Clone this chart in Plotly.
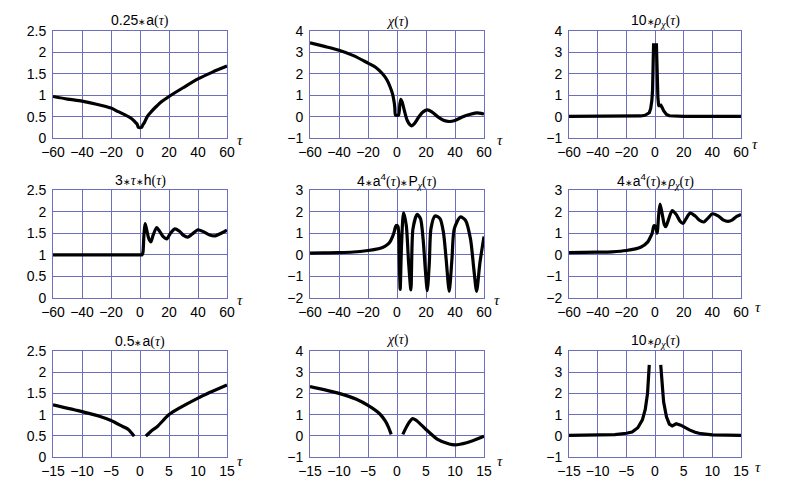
import plotly.graph_objects as go

# the page places the figure 8 px in from the top-left corner of the window
OFF = 8
W, H = 789 - OFF, 488 - OFF

# ---------------- data ----------------
# a(tau) (panel 1 shows 0.25*a, panel 7 shows 0.5*a)
a_tau = [-60, -50, -40, -30, -20, -15, -10, -7, -5, -3, -2, -1, 1, 2, 3, 5, 7, 10, 12, 15, 20, 30, 40, 50, 60]
a_val = [3.88, 3.64, 3.44, 3.16, 2.80, 2.46, 2.14, 1.92, 1.72, 1.44, 1.30, 0.98,
         0.98, 1.24, 1.44, 2.00, 2.34, 2.78, 3.04, 3.40, 3.88, 4.72, 5.52, 6.16, 6.72]

# chi(tau)
chi_tau = [-60, -50, -40, -30, -20, -15, -10, -7, -5, -3, -2, -1.5, -1, 1, 2, 2.7, 3.5, 5, 7, 9, 10, 12, 15,
           18, 21, 24, 28, 32, 36, 40, 45, 50, 55, 58, 60]
chi_val = [3.45, 3.28, 3.10, 2.85, 2.50, 2.32, 2.00, 1.72, 1.43, 1.04, 0.69, 0.42, 0.07, 0.07, 0.60, 0.81, 0.69,
           0.30, -0.17, -0.39, -0.43, -0.33, -0.02, 0.22, 0.31, 0.22, 0.00, -0.17, -0.23, -0.18, -0.02, 0.10,
           0.17, 0.15, 0.12]

# 10*rho_chi(tau)
rho_tau = [-60, -40, -20, -15, -10, -7, -5, -4, -3, -2.2, -1.7, -1.3, -1, 1, 1.3, 1.5, 2, 2.5, 3, 3.7, 4.5,
           5, 6, 7, 8, 10, 15, 20, 60]
rho_val = [0.01, 0.01, 0.02, 0.02, 0.03, 0.06, 0.12, 0.18, 0.38, 0.75, 1.24, 2.00, 3.35, 3.35, 2.20, 1.60,
           0.90, 0.55, 0.47, 0.57, 0.50, 0.42, 0.28, 0.17, 0.10, 0.04, 0.02, 0.01, 0.01]

# 3*tau*h(tau)
h_tau = [-60, -30, 0, 1.4, 2, 2.7, 3.5, 4.5, 6, 7.5, 9, 11.5, 14, 16, 18.5, 21, 24, 27, 30, 33, 36, 40,
         44, 48, 52, 56, 60]
h_val = [1.0, 1.0, 1.0, 1.0, 1.05, 1.45, 1.72, 1.60, 1.38, 1.30, 1.45, 1.63, 1.52, 1.42, 1.37, 1.50, 1.60,
         1.55, 1.45, 1.41, 1.48, 1.58, 1.53, 1.46, 1.44, 1.50, 1.57]

# 4*a^4(tau)*P_chi(tau)
p_tau = [-60, -50, -40, -30, -20, -15, -10, -7, -5, -3, -2, -1, -0.3, 0.7, 1.5, 2.2, 3.1, 4.5, 6.4, 8,
         9.6, 11, 13.9, 16.2, 18, 19.7, 20.9, 22.3, 23.4, 26.2, 29.7, 32, 33.9, 36, 37.9, 39.5, 43.7, 47.2,
         50.7, 53, 54.9, 57.2, 60]
p_val = [0.08, 0.09, 0.10, 0.13, 0.20, 0.25, 0.34, 0.45, 0.58, 0.85, 1.05, 1.30, 1.36, 1.30, 0.00, -1.60,
         0.40, 1.94, 1.36, -0.36, -1.62, 1.20, 1.87, 1.67, 0.73, -0.83, -1.66, -0.36, 1.20, 1.80, 1.67, 1.05,
         -0.20, -1.69, -0.20, 1.20, 1.75, 1.60, 0.73, -0.67, -1.69, -0.36, 0.85]

# 4*a^4(tau)*rho_chi(tau)
r_tau = [-60, -40, -30, -20, -10, -5, -3, -2, -1, -0.5, 0.5, 1.5, 2.5, 3.5, 5, 6.5, 7.5, 9, 12, 15, 17.5,
         19.5, 21.5, 24.5, 28, 31, 34, 37, 40, 44, 47.5, 51, 54, 57, 60]
r_val = [0.10, 0.12, 0.14, 0.20, 0.35, 0.60, 0.85, 1.00, 1.30, 1.35, 1.30, 1.00, 1.80, 2.35, 1.90, 1.40,
         1.30, 1.55, 2.05, 1.85, 1.55, 1.45, 1.65, 1.93, 1.80, 1.60, 1.52, 1.70, 1.90, 1.80, 1.62, 1.55,
         1.62, 1.78, 1.87]

x_full_ticks = [-60, -40, -20, 0, 20, 40, 60]
x_zoom_ticks = [-15, -10, -5, 0, 5, 10, 15]
y_a_ticks = [0, 0.5, 1, 1.5, 2, 2.5]
y_chi_ticks = [-1, 0, 1, 2, 3, 4]
y_p_ticks = [-2, -1, 0, 1, 2, 3]

# ---------------- layout geometry (window pixels) ----------------
cols = [(53, 227), (310, 484), (569, 741)]
rows = [(31, 138), (190, 298), (351, 457)]
# per panel (xshift, yshift) of the tau axis label
tau_shift = [(8, -2), (11, -2), (9, -6),
             (8, -2), (8, -2), (12, -9),
             (8, -4), (11, -4), (12, -10)]

GRID = "rgb(110,110,190)"
FONT = "Liberation Sans, Arial, sans-serif"
SERIF = "Liberation Serif, DejaVu Serif, serif"


def g(s):
    return '<span style="font-family:Liberation Serif"><i>%s</i></span>' % s


AST = '<span style="font-size:9px">∗</span>'
P = '<span style="font-family:Liberation Serif">(</span>'
Q = '<span style="font-family:Liberation Serif">)</span>'
TAU = P + g("τ") + Q

panels = [
    dict(x=a_tau, y=[0.25 * v for v in a_val], xr=(-60, 60), xt=x_full_ticks, yr=(0, 2.5), yt=y_a_ticks,
         title="0.25" + AST + "a" + TAU, shape="spline", gap=False),
    dict(x=chi_tau, y=chi_val, xr=(-60, 60), xt=x_full_ticks, yr=(-1, 4), yt=y_chi_ticks,
         title=g("χ") + TAU, shape="spline", gap=False),
    dict(x=rho_tau, y=rho_val, xr=(-60, 60), xt=x_full_ticks, yr=(-1, 4), yt=y_chi_ticks,
         title="10" + AST + g("ρ") + "<sub>" + g("χ") + "</sub>" + TAU, shape="linear", gap=False),
    dict(x=h_tau, y=h_val, xr=(-60, 60), xt=x_full_ticks, yr=(0, 2.5), yt=y_a_ticks,
         title="3" + AST + g("τ") + AST + "h" + TAU, shape="spline", gap=False),
    dict(x=p_tau, y=p_val, xr=(-60, 60), xt=x_full_ticks, yr=(-2, 3), yt=y_p_ticks,
         title="4" + AST + "a<sup>4</sup>" + TAU + AST + "P<sub>" + g("χ") + "</sub>" + TAU,
         shape="spline", gap=False),
    dict(x=r_tau, y=r_val, xr=(-60, 60), xt=x_full_ticks, yr=(-2, 3), yt=y_p_ticks,
         title="4" + AST + "a<sup>4</sup>" + TAU + AST + g("ρ") + "<sub>" + g("χ") + "</sub>" + TAU,
         shape="spline", gap=False),
    dict(x=a_tau, y=[0.5 * v for v in a_val], xr=(-15, 15), xt=x_zoom_ticks, yr=(0, 2.5), yt=y_a_ticks,
         title="0.5" + AST + "a" + TAU, shape="spline", gap=True),
    dict(x=chi_tau, y=chi_val, xr=(-15, 15), xt=x_zoom_ticks, yr=(-1, 4), yt=y_chi_ticks,
         title=g("χ") + TAU, shape="spline", gap=True),
    dict(x=rho_tau, y=rho_val, xr=(-15, 15), xt=x_zoom_ticks, yr=(-1, 4), yt=y_chi_ticks,
         title="10" + AST + g("ρ") + "<sub>" + g("χ") + "</sub>" + TAU, shape="linear", gap=True),
]
title_center = [20, 22, 21, 181, 181, 181, 341, 340, 341]


def fmt(v):
    s = ("%g" % v)
    return s.replace("-", "−")


def px(x):
    return (x - OFF) / W


def py(y):
    return 1 - (y - OFF) / H


fig = go.Figure()
annotations = []
layout = {}
for i, p in enumerate(panels):
    n = i + 1
    r, c = divmod(i, 3)
    x0, x1 = cols[c]
    y0, y1 = rows[r]
    xs = "" if n == 1 else str(n)
    xname, yname = "x" + xs, "y" + xs
    if p["gap"]:
        lo, hi = p["xr"]
        segs = [[(t, v) for t, v in zip(p["x"], p["y"]) if lo - 1 <= t <= -1],
                [(t, v) for t, v in zip(p["x"], p["y"]) if 1 <= t <= hi + 1]]
    else:
        segs = [list(zip(p["x"], p["y"]))]
    for seg in segs:
        fig.add_trace(go.Scatter(x=[s[0] for s in seg], y=[s[1] for s in seg], mode="lines",
                                 line=dict(color="black", width=3.2, shape=p["shape"], smoothing=0.7),
                                 xaxis=xname, yaxis=yname, showlegend=False, hoverinfo="skip",
                                 cliponaxis=True))
    axis_common = dict(showgrid=True, gridcolor=GRID, gridwidth=1, showline=True, linecolor=GRID,
                       linewidth=1, mirror=True, zeroline=False, ticks="", fixedrange=True,
                       automargin=False,
                       tickfont=dict(family=FONT, size=14, color="black"))
    layout["xaxis" + xs] = dict(axis_common, domain=[px(x0), px(x1)], range=list(p["xr"]),
                                tickvals=p["xt"], ticktext=[fmt(v) for v in p["xt"]],
                                anchor=yname, ticklabelstandoff=1)
    layout["yaxis" + xs] = dict(axis_common, domain=[py(y1), py(y0)], range=list(p["yr"]),
                                tickvals=p["yt"], ticktext=[fmt(v) for v in p["yt"]],
                                anchor=xname, ticklabelstandoff=3)
    annotations.append(dict(text=p["title"], xref="paper", yref="paper",
                            x=px((x0 + x1) / 2), y=py(title_center[i]), xanchor="center",
                            yanchor="middle", showarrow=False,
                            font=dict(family=FONT, size=14, color="black")))
    dx, dy = tau_shift[i]
    annotations.append(dict(text="<i>τ</i>", xref=xname + " domain", yref=yname + " domain",
                            x=1, y=0, xanchor="left", yanchor="middle", xshift=dx, yshift=dy,
                            showarrow=False, font=dict(family=SERIF, size=15, color="black")))

fig.update_layout(width=W, height=H, margin=dict(l=0, r=0, t=0, b=0), paper_bgcolor="white",
                  plot_bgcolor="white", annotations=annotations, template="none", **layout)
fig.write_html("out.html")
